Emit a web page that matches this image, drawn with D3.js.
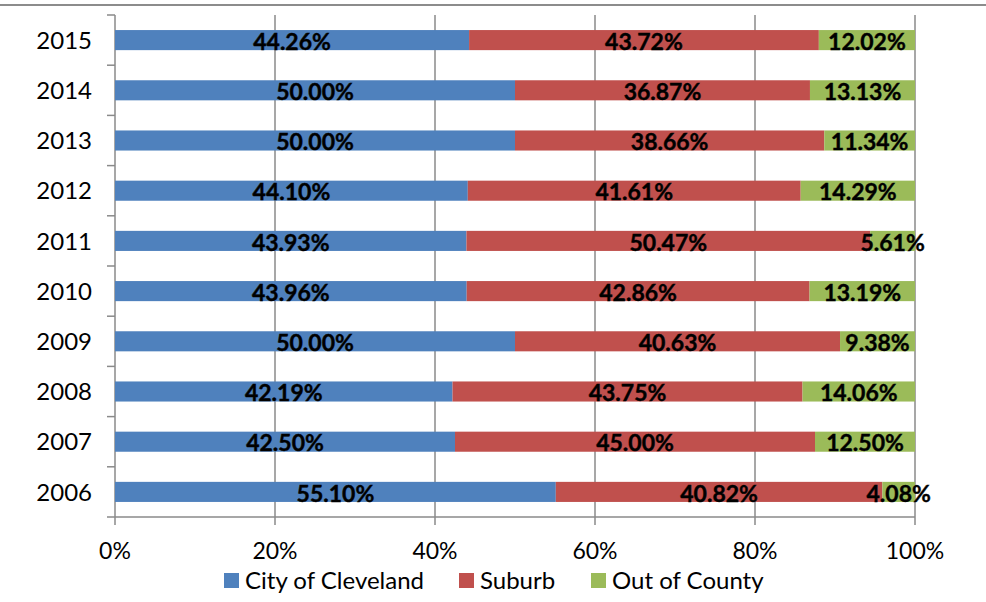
<!DOCTYPE html>
<html><head><meta charset="utf-8">
<script src="https://cdn.jsdelivr.net/npm/d3@7"></script>
<style>
body{margin:0;background:#fff;}
svg{display:block;font-family:Lato, "Open Sans", sans-serif;}
</style></head>
<body><svg id="c" width="986" height="602"></svg>
<script>
const years = ["2015","2014","2013","2012","2011","2010","2009","2008","2007","2006"];
const city   = [44.26,50.00,50.00,44.10,43.93,43.96,50.00,42.19,42.50,55.10];
const suburb = [43.72,36.87,38.66,41.61,50.47,42.86,40.63,43.75,45.00,40.82];
const outCounty = [12.02,13.13,11.34,14.29,5.61,13.19,9.38,14.06,12.50,4.08];
const seriesNames = ["City of Cleveland","Suburb","Out of County"];
const colors = ["#4F81BD","#C0504D","#9BBB59"];
const xTicks = [0,20,40,60,80,100];

(function(){
const svg = d3.select("#c");
const pl=115, pr=915, pt=15, pb=517;
const x = d3.scaleLinear().domain([0,100]).range([pl,pr]);
const y = d3.scaleBand().domain(years).range([pt,pb]).paddingInner(0.6).paddingOuter(0.3);
const axisColor = "#8a8a8a";

svg.append("line").attr("x1",0).attr("x2",986).attr("y1",5).attr("y2",5)
  .attr("stroke","#8c8c8c").attr("stroke-width",2);

svg.append("g").selectAll("line").data(xTicks).join("line")
  .attr("x1",d=>x(d)).attr("x2",d=>x(d)).attr("y1",pt).attr("y2",pb+8)
  .attr("stroke",axisColor).attr("stroke-width",1.5);

svg.append("line").attr("x1",pl).attr("x2",pr).attr("y1",pb).attr("y2",pb)
  .attr("stroke",axisColor).attr("stroke-width",1.5);

const bounds = years.map(d=>y(d)-y.step()*0.3).concat([pb]);
svg.append("g").selectAll("line").data(bounds).join("line")
  .attr("x1",pl-8).attr("x2",pl).attr("y1",d=>d).attr("y2",d=>d)
  .attr("stroke",axisColor).attr("stroke-width",1.5);

svg.append("g").selectAll("text").data(xTicks).join("text")
  .attr("x",d=>x(d)).attr("y",559).attr("text-anchor","middle")
  .attr("font-size",23).attr("fill","#000").text(d=>d+"%");

svg.append("g").selectAll("text").data(years).join("text")
  .attr("x",92).attr("y",d=>y(d)+y.bandwidth()/2).attr("dy","0.36em")
  .attr("text-anchor","end").attr("font-size",24).attr("fill","#000").text(d=>d);

const rows = years.map((yr,i)=>({year:yr, v:[city[i],suburb[i],outCounty[i]]}));
const segs = [];
rows.forEach(r=>{ let acc=0; r.v.forEach((v,k)=>{ segs.push({year:r.year,k,x0:acc,x1:acc+v,v}); acc+=v; }); });

svg.append("g").selectAll("rect").data(segs).join("rect")
  .attr("x",d=>x(d.x0)).attr("width",d=>Math.max(0,x(Math.min(100,d.x1))-x(d.x0)))
  .attr("y",d=>y(d.year)).attr("height",y.bandwidth())
  .attr("fill",d=>colors[d.k]);

svg.append("g").selectAll("text").data(segs).join("text")
  .attr("x",d=>x((d.x0+Math.min(100,d.x1))/2)).attr("y",d=>y(d.year)+y.bandwidth()/2).attr("dy","0.42em")
  .attr("text-anchor","middle").attr("font-size",23).attr("font-weight","bold").attr("fill","#000")
  .attr("stroke","#000").attr("stroke-width",0.4)
  .text(d=>d.v.toFixed(2)+"%");

const legX = [224,459,591];
const leg = svg.append("g").selectAll("g").data(seriesNames).join("g")
  .attr("transform",(d,i)=>`translate(${legX[i]},573)`);
leg.append("rect").attr("width",15).attr("height",15).attr("fill",(d,i)=>colors[i]);
leg.append("text").attr("x",21).attr("y",16).attr("font-size",24).attr("fill","#000").text(d=>d);
})();
</script></body></html>
